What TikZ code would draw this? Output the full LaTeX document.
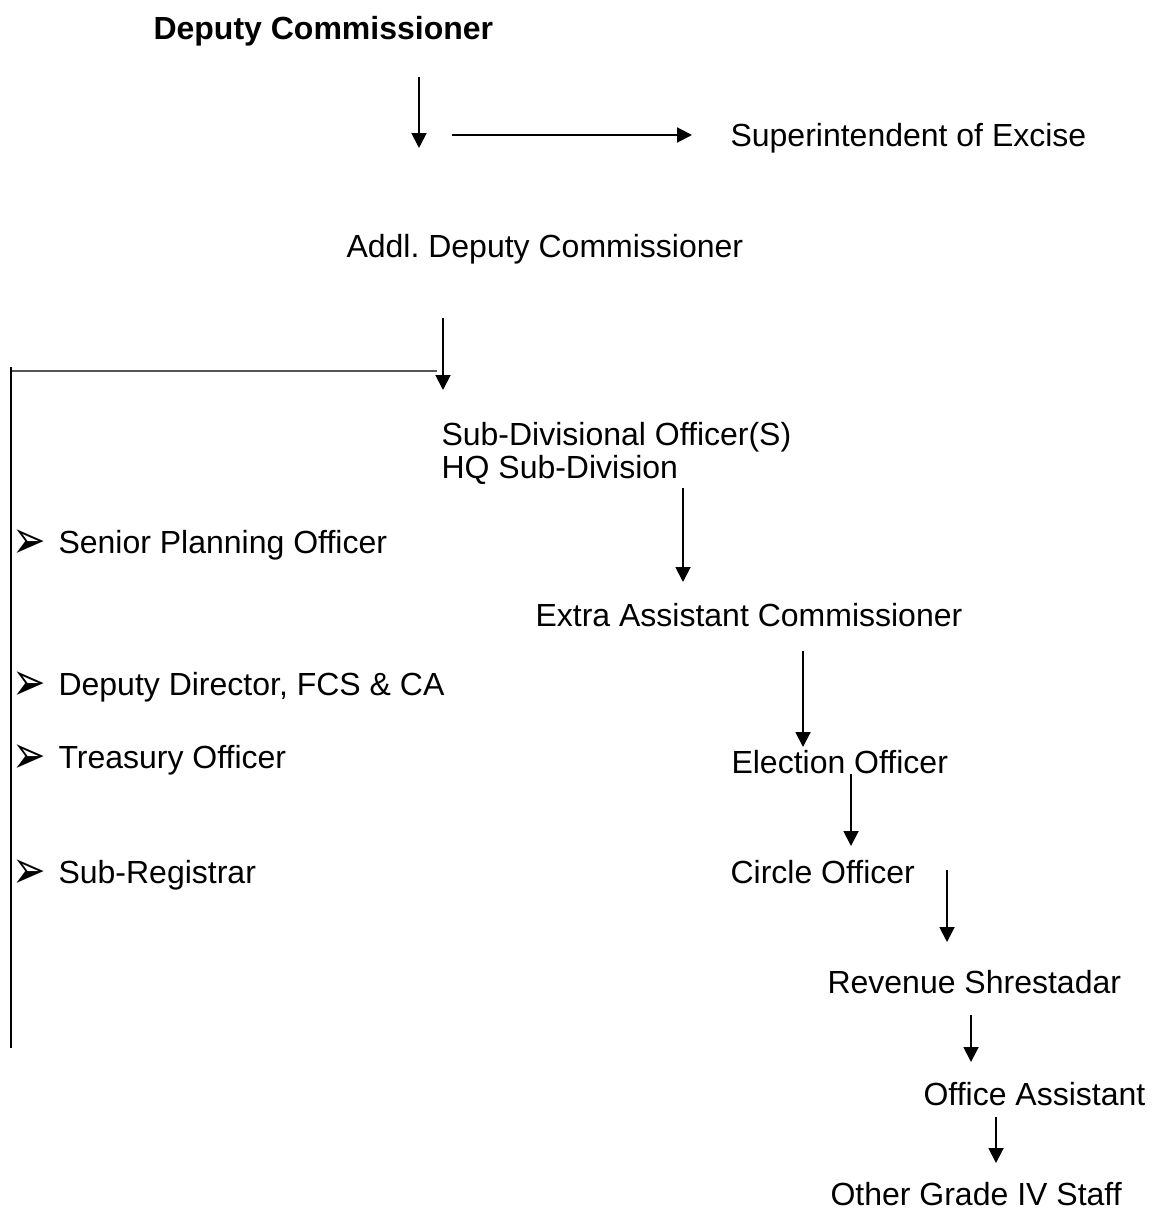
\documentclass[tikz,border=0pt]{standalone}
\usepackage{fontspec}
\setmainfont{Liberation Sans}
\newfontfamily\dingfont{DejaVu Sans}
\usetikzlibrary{arrows.meta}
\definecolor{ocBlack}{RGB}{0,0,0}
\definecolor{ocGray}{RGB}{85,85,85}
\frenchspacing

\begin{document}
\begin{tikzpicture}[x=0.375pt,y=-0.375pt,
    post/.style={anchor=base west, inner sep=0pt, text=ocBlack, font=\fontsize{12}{12.4}\selectfont},
    listarrow/.style={anchor=west, inner sep=0pt, text=ocBlack, font=\dingfont\fontsize{15}{16}\selectfont},
    flow/.style={ocBlack, line width=0.75pt, -{Triangle[length=5.6pt,width=5.6pt]}}]
    \useasboundingbox (0,0) rectangle (1154,1218);

    % main chain
    \node[post, font=\fontsize{12}{12.4}\selectfont\bfseries] (dc) at (153,40) {Deputy Commissioner};
    \node[post] (supt) at (730,147) {Superintendent of Excise};
    \node[post] (adc) at (346,258) {Addl. Deputy Commissioner};
    \node[post, align=left] (sdo) at (441,479) {Sub-Divisional Officer(S)\\HQ Sub-Division};
    \node[post] (eac) at (535,626) {Extra Assistant Commissioner};
    \node[post] (elec) at (731,773) {Election Officer};
    \node[post] (circ) at (730,883) {Circle Officer};
    \node[post] (rev) at (827,993) {Revenue Shrestadar};
    \node[post] (office) at (923,1105) {Office Assistant};
    \node[post] (grade) at (830,1205) {Other Grade IV Staff};

    % side list
    \node[listarrow] (b1) at (12,544) {\scalebox{1}[1.35]{➢}};
    \node[post] (spo) at (58,553) {Senior Planning Officer};
    \node[listarrow] (b2) at (12,686) {\scalebox{1}[1.35]{➢}};
    \node[post] (ddir) at (58,695) {Deputy Director, FCS \& CA};
    \node[listarrow] (b3) at (12,759) {\scalebox{1}[1.35]{➢}};
    \node[post] (treas) at (58,768) {Treasury Officer};
    \node[listarrow] (b4) at (12,874) {\scalebox{1}[1.35]{➢}};
    \node[post] (subreg) at (58,883) {Sub-Registrar};

    % arrow ends
    \coordinate (dcA) at (419,77);   \coordinate (dcB) at (419,148);
    \coordinate (exA) at (452,135);  \coordinate (exB) at (692,135);
    \coordinate (adcA) at (443,318); \coordinate (adcB) at (443,390);
    \coordinate (sdoA) at (683,488); \coordinate (sdoB) at (683,582);
    \coordinate (eacA) at (803,651); \coordinate (eacB) at (803,747);
    \coordinate (elA) at (851,774);  \coordinate (elB) at (851,846);
    \coordinate (ciA) at (947,870);  \coordinate (ciB) at (947,942);
    \coordinate (rvA) at (971,1015); \coordinate (rvB) at (971,1062);
    \coordinate (ofA) at (996,1117); \coordinate (ofB) at (996,1163);
    \coordinate (brR) at (437,371);  \coordinate (brL) at (11,371);
    \coordinate (barT) at (11,367);  \coordinate (barB) at (11,1048);

    \draw[flow] (dcA) -- (dcB);
    \draw[flow] (exA) -- (exB);
    \draw[flow] (adcA) -- (adcB);
    \draw[flow] (sdoA) -- (sdoB);
    \draw[flow] (eacA) -- (eacB);
    \draw[flow] (elA) -- (elB);
    \draw[flow] (ciA) -- (ciB);
    \draw[flow] (rvA) -- (rvB);
    \draw[flow] (ofA) -- (ofB);
    \draw[ocGray, line width=0.5pt] (brL) -- (brR);
    \draw[ocBlack, line width=0.75pt] (barT) -- (barB);
\end{tikzpicture}
\end{document}
